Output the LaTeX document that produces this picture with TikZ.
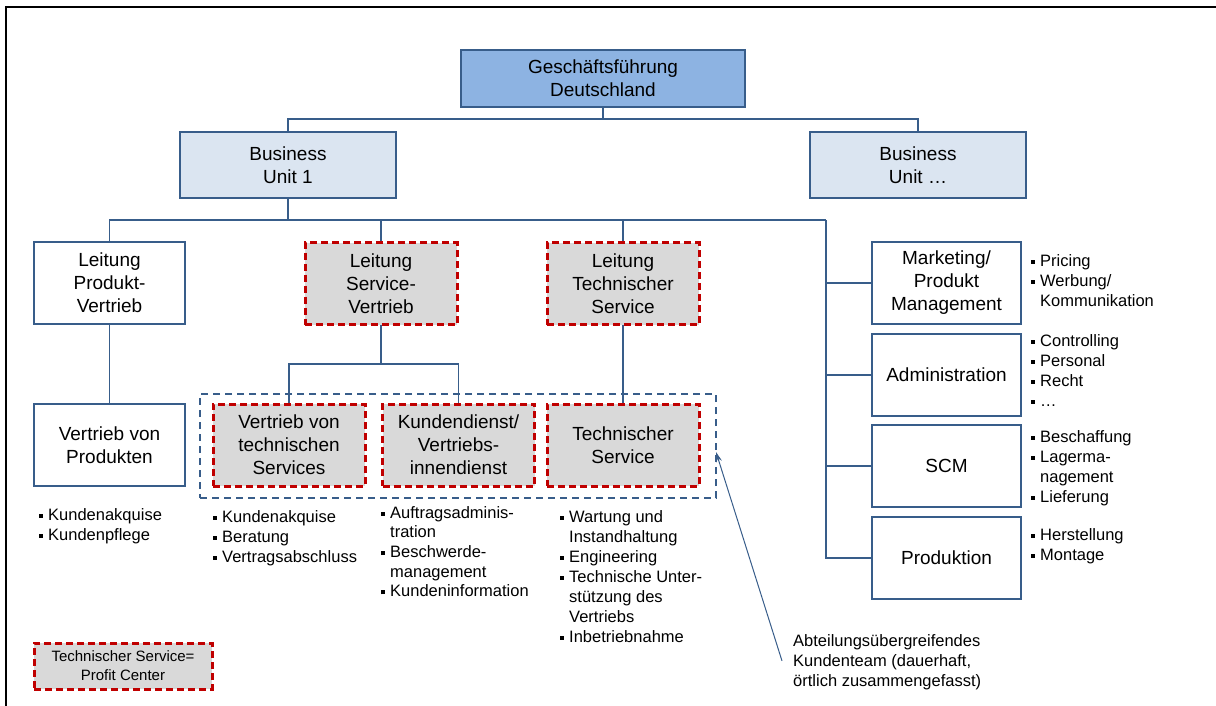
\documentclass[tikz,border=0pt]{standalone}
\usepackage{fontspec}
\setmainfont{Liberation Sans}
\usetikzlibrary{arrows.meta,backgrounds}
\definecolor{gfblue}{HTML}{8DB3E2}
\definecolor{bulight}{HTML}{DBE5F1}
\definecolor{lineblue}{HTML}{385D8A}
\definecolor{dred}{HTML}{C00000}
\definecolor{lgray}{HTML}{D9D9D9}
\newcommand{\bl}{\strut\makebox[9pt][l]{\rule[2.5pt]{4pt}{4pt}}}
\newcommand{\ind}{\strut\hspace*{9pt}}
\begin{document}
\begin{tikzpicture}[x=1pt,y=-1pt,
  box/.style={draw=lineblue, line width=1.3pt, fill=white, minimum width=151pt, minimum height=82pt,
    inner sep=0pt, outer sep=0pt, align=center, font=\fontsize{19}{23}\selectfont},
  pcbox/.style={box, draw=dred, line width=3pt, dash pattern=on 7pt off 4pt, fill=lgray, minimum width=152pt},
  conn/.style={draw=lineblue, line width=1.2pt},
  lst/.style={anchor=north west, inner sep=0pt, align=left, font=\fontsize{16.5}{20}\selectfont},
  grpbox/.style={draw=lineblue, line width=1.8pt, dash pattern=on 7pt off 5pt, inner sep=0pt, outer sep=0pt},
]
\useasboundingbox (0,0) rectangle (1216,706);
\draw[line width=2pt] (6,706) -- (6,7) -- (1216,7);

% top levels
\node[box, fill=gfblue, minimum width=284pt, minimum height=57pt] (gf) at (603,78.5) {Geschäftsführung\\Deutschland};
\node[box, fill=bulight, minimum width=216pt, minimum height=66pt] (bu1) at (288,165) {Business\\Unit 1};
\node[box, fill=bulight, minimum width=216pt, minimum height=66pt] (bu2) at (918,165) {Business\\Unit …};

% group frame
\node[grpbox, minimum width=516pt, minimum height=104pt] (grp) at (458,446) {};

% second row
\node[box] (lpv) at (109.5,283) {Leitung\\Produkt-\\Vertrieb};
\node[pcbox] (lsv) at (381,283.5) {Leitung\\Service-\\Vertrieb};
\node[pcbox] (lts) at (623,283.5) {Leitung\\Technischer\\Service};

% third row
\node[box] (vvp) at (109.5,445) {Vertrieb von\\Produkten};
\node[pcbox] (vts) at (289,445) {Vertrieb von\\technischen\\Services};
\node[pcbox] (kd) at (458.5,445) {Kundendienst/\\Vertriebs-\\innendienst};
\node[pcbox] (ts) at (623,445) {Technischer\\Service};

% right column
\node[box, minimum width=149pt] (mpm) at (946.5,283) {Marketing/\\Produkt\\Management};
\node[box, minimum width=149pt] (adm) at (946.5,375) {Administration};
\node[box, minimum width=149pt] (scm) at (946.5,466) {SCM};
\node[box, minimum width=149pt] (prod) at (946.5,558) {Produktion};

% connectors
\coordinate (j1) at (603,119);
\coordinate (j2) at (288,220);
\coordinate (rbus) at (826,220);
\coordinate (j3) at (381,364);
\begin{scope}[on background layer]
\draw[conn] (gf.south) -- (j1);
\draw[conn] (bu1.north) |- (j1) -| (bu2.north);
\draw[conn] (bu1.south) -- (j2);
\draw[conn] (lpv.north) |- (rbus);
\draw[conn] (lsv.north) -- (lsv.north |- j2);
\draw[conn] (lts.north) -- (lts.north |- j2);
\draw[conn] (rbus) |- (prod.west);
\draw[conn] (mpm.west) -- (mpm.west -| rbus);
\draw[conn] (adm.west) -- (adm.west -| rbus);
\draw[conn] (scm.west) -- (scm.west -| rbus);
\draw[conn] (lpv.south) -- (vvp.north);
\draw[conn] (lsv.south) -- (j3);
\draw[conn] (vts.north) |- (j3) -| (kd.north);
\draw[conn] (lts.south) -- (ts.north);
\end{scope}

% lists
\node[lst] (l1) at (39,506) {\bl Kundenakquise\\\bl Kundenpflege};
\node[lst] (l2) at (213,508) {\bl Kundenakquise\\\bl Beratung\\\bl Vertragsabschluss};
\node[lst, font=\fontsize{16.5}{19.7}\selectfont] (l3) at (381,504.2) {\bl Auftragsadminis-\\\ind tration\\\bl Beschwerde-\\\ind management\\\bl Kundeninformation};
\node[lst] (l4) at (560,508) {\bl Wartung und\\\ind Instandhaltung\\\bl Engineering\\\bl Technische Unter-\\\ind stützung des\\\ind Vertriebs\\\bl Inbetriebnahme};
\node[lst] (r1) at (1031,252) {\bl Pricing\\\bl Werbung/\\\ind Kommunikation};
\node[lst] (r2) at (1031,332) {\bl Controlling\\\bl Personal\\\bl Recht\\\bl …};
\node[lst] (r3) at (1031,428) {\bl Beschaffung\\\bl Lagerma-\\\ind nagement\\\bl Lieferung};
\node[lst] (r4) at (1031,526) {\bl Herstellung\\\bl Montage};

% legend
\node[pcbox, minimum width=178pt, minimum height=46pt, font=\fontsize{15}{19}\selectfont] (leg) at (123,666) {Technischer Service=\\Profit Center};

% annotation
\node[lst] (ann) at (793,632) {\strut Abteilungsübergreifendes\\Kundenteam (dauerhaft,\\örtlich zusammengefasst)};
\draw[lineblue, line width=1pt, -{Stealth[length=10pt,width=6pt]}] ([xshift=-11pt]ann.west) -- ([yshift=-6pt]grp.east);
\end{tikzpicture}
\end{document}
